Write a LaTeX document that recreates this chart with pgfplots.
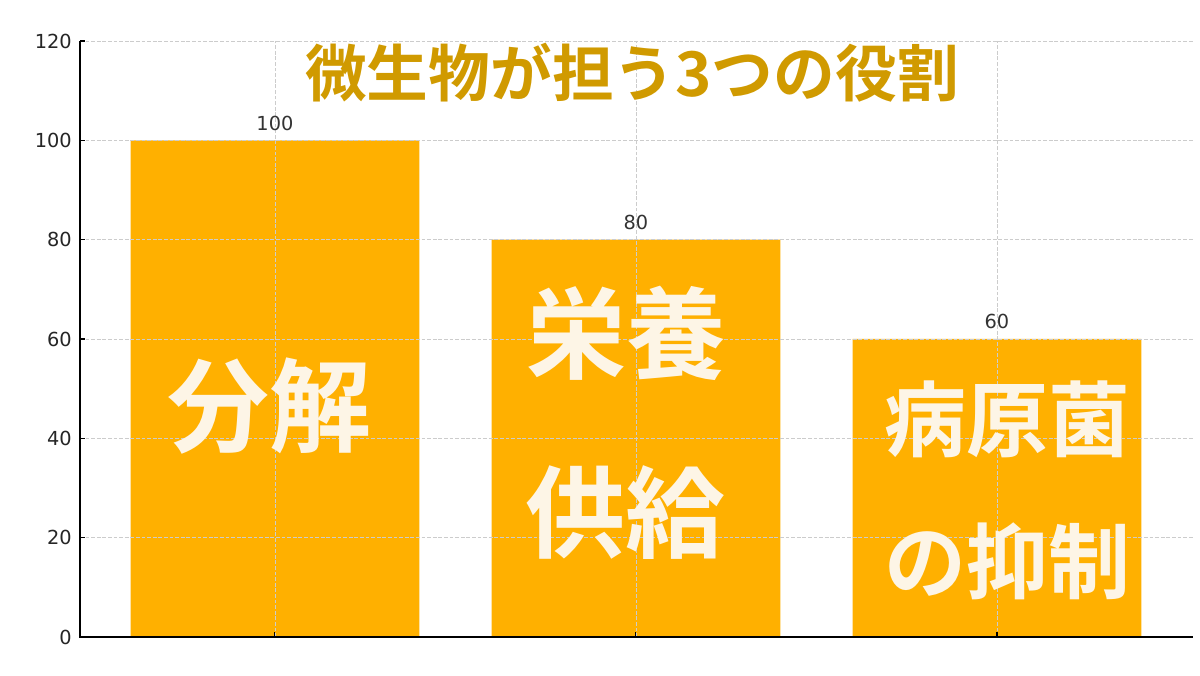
\documentclass[border=0pt]{standalone}
\usepackage{fontspec}
\setmainfont{DejaVu Sans}
\newfontfamily\cjk{Noto Sans CJK JP}[BoldFont={Noto Sans CJK JP Bold}]
\usepackage{pgfplots}
\pgfplotsset{compat=1.18}

\definecolor{barc}{HTML}{FFB000}
\definecolor{titlec}{HTML}{D09A00}
\definecolor{creamc}{HTML}{FDF5E6}
\definecolor{gridc}{HTML}{CCCCCC}
\definecolor{tickc}{HTML}{262626}

\begin{document}
\begin{tikzpicture}
  \begin{axis}[
      at={(60pt,28.5pt)}, anchor=south west,
      scale only axis,
      width=834.75pt, height=447pt,
      axis on top,
      axis line style={draw=none},
      xmin=-0.54, xmax=2.543,
      ymin=0, ymax=120,
      ytick={0,20,...,120},
      xtick={0,1,2},
      xticklabels={},
      xtick pos=bottom, ytick pos=left,
      tick align=inside,
      major tick length=3.75pt,
      tick style={black, line width=0.8pt},
      xtick style={yshift=3.75pt},
      xmajorgrids, ymajorgrids,
      major grid style={gridc, line width=0.6pt, dash pattern=on 2.8pt off 1.4pt},
      /pgf/number format/assume math mode=true,
      ticklabel style={font=\fontsize{14.5}{16}\selectfont, text=tickc},
      yticklabel style={inner sep=0pt, xshift=-6pt},
      ybar, bar width=0.8,
      nodes near coords,
      every node near coord/.append style={font=\fontsize{14.5}{16}\selectfont,
        text=black!80, anchor=base, yshift=7.5pt, inner sep=0pt},
    ]
    \addplot[fill=barc, draw=none] coordinates {(0,100) (1,80) (2,60)};

    \coordinate (ttl) at (axis cs:0.989,108.8);
    \coordinate (l1)  at (axis cs:-0.014,38.7);
    \coordinate (l2a) at (axis cs:0.974,53.4);
    \coordinate (l2b) at (axis cs:0.972,17.5);
    \coordinate (l3a) at (axis cs:2.028,37.6);
    \coordinate (l3b) at (axis cs:2.028,8.9);
    \coordinate (o)   at (rel axis cs:0,0);
    \coordinate (tl)  at (rel axis cs:0,1);
    \coordinate (br)  at (rel axis cs:1,0);
  \end{axis}

  % spines: left and bottom only
  \draw[black, line width=1.1pt] (tl) -- (o) -- (br);

  \node[anchor=base, text=titlec, font=\cjk\bfseries\fontsize{46.3}{50}\selectfont]
    at (ttl) {微生物が担う3つの役割};
  \node[anchor=base, text=creamc, font=\cjk\bfseries\fontsize{76.5}{80}\selectfont]
    at (l1) {分解};
  \node[anchor=base, text=creamc, font=\cjk\bfseries\fontsize{75}{80}\selectfont]
    at (l2a) {栄養};
  \node[anchor=base, text=creamc, font=\cjk\bfseries\fontsize{75}{80}\selectfont]
    at (l2b) {供給};
  \node[anchor=base, text=creamc, font=\cjk\bfseries\fontsize{61.5}{65}\selectfont]
    at (l3a) {病原菌};
  \node[anchor=base, text=creamc, font=\cjk\bfseries\fontsize{61.5}{65}\selectfont]
    at (l3b) {の抑制};

  \pgfresetboundingbox
  \useasboundingbox (0,0) rectangle (900pt,506.25pt);
\end{tikzpicture}
\end{document}
